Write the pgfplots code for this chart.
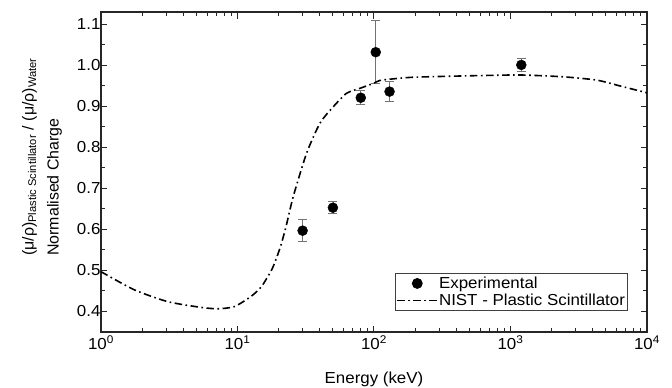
\documentclass[border=0pt]{standalone}
\usepackage{pgfplots}
\pgfplotsset{compat=1.18}
\usepackage{fontspec}
\setmainfont{Liberation Sans}[FakeStretch=1.06]
\newfontfamily\ylfont{Liberation Sans}
\pgfplotsset{
  dashdotlegend/.style={legend image code/.code={\draw[##1] (0bp,0bp) -- (40bp,0bp);}},
  dotlegend/.style={legend image code/.code={\draw[mark repeat=2,mark phase=2,##1] plot coordinates {(0bp,0bp) (20bp,0bp) (40bp,0bp)};}},
}
\begin{document}
\begin{tikzpicture}
\useasboundingbox (-101bp,-56bp) rectangle (571bp,332bp);
\begin{axis}[
  at={(0bp,0bp)}, anchor=south west,
  scale only axis, width=546bp, height=320bp,
  xmode=log, xmin=1, xmax=10000, ymin=0.35, ymax=1.13,
  xtick={1,10,100,1000,10000},
  xticklabels={10\textsuperscript{0},10\textsuperscript{1},10\textsuperscript{2},10\textsuperscript{3},10\textsuperscript{4}},
  ytick={0.4,0.5,0.6,0.7,0.8,0.9,1.0,1.1},
  yticklabels={0.4,0.5,0.6,0.7,0.8,0.9,1.0,1.1},
  minor ytick={0.35,0.45,0.55,0.65,0.75,0.85,0.95,1.05},
  tick align=inside, tick pos=both,
  major tick length=6.5bp, minor tick length=4bp,
  axis line style={line width=1.3bp, black!85},
  every tick/.style={line width=1bp, black!85},
  ticklabel style={font=\fontsize{16}{19}\selectfont},
  yticklabel style={xshift=3bp},
  xlabel={Energy (keV)},
  xlabel style={font=\fontsize{16}{19}\selectfont, at={(axis description cs:0.5,-0.16)}, anchor=base},
  ylabel={(μ/ρ)\textsubscript{Plastic Scintillator} / (μ/ρ)\textsubscript{Water}\\Normalised Charge},
  ylabel style={font=\ylfont\fontsize{16}{25}\selectfont, align=left, inner sep=0pt,
    at={(axis description cs:-0.0714,0.2375)}, anchor=south west},
  legend style={at={(0.965,0.066)}, anchor=south east, draw=black!75, line width=0.8bp,
    font=\fontsize{16}{19}\selectfont, inner xsep=1.5bp, inner ysep=1.5bp, row sep=0bp,
    nodes={inner xsep=1bp}},
  legend cell align=left,
]
\addplot[only marks, mark=*, mark size=5bp, black, dotlegend,
  error bars/.cd, y dir=both, y explicit,
  error bar style={black!55, line width=0.8bp},
  error mark options={rotate=90, mark size=4.5bp, black!55, line width=0.8bp}]
  table[x=x, y=y, y error=e] {
x y e
30 0.597 0.027
50 0.653 0.015
80 0.921 0.017
103 1.032 0.077
130 0.936 0.024
1200 1.001 0.017
};
\addlegendentry{Experimental}
\addplot[black, line width=1.6bp, smooth, tension=0.4,
  dash pattern=on 7.5bp off 3.5bp on 1.6bp off 3.5bp, dashdotlegend]
  coordinates {
(1,0.497) (1.75,0.453) (3.08,0.424) (5.4,0.410) (7.2,0.4066) (9.5,0.412)
(12.6,0.437) (15,0.461) (18,0.505) (20.5,0.555) (22.6,0.605) (25.6,0.680)
(32.1,0.786) (40.2,0.859) (50.3,0.899) (63,0.932) (79,0.944) (99,0.956)
(110,0.963) (138,0.967) (194,0.971) (427,0.974) (598,0.975) (1175,0.9765)
(2440,0.972) (4280,0.964) (6300,0.950) (10000,0.933)
};
\addlegendentry{NIST - Plastic Scintillator}
\end{axis}
\end{tikzpicture}
\end{document}
